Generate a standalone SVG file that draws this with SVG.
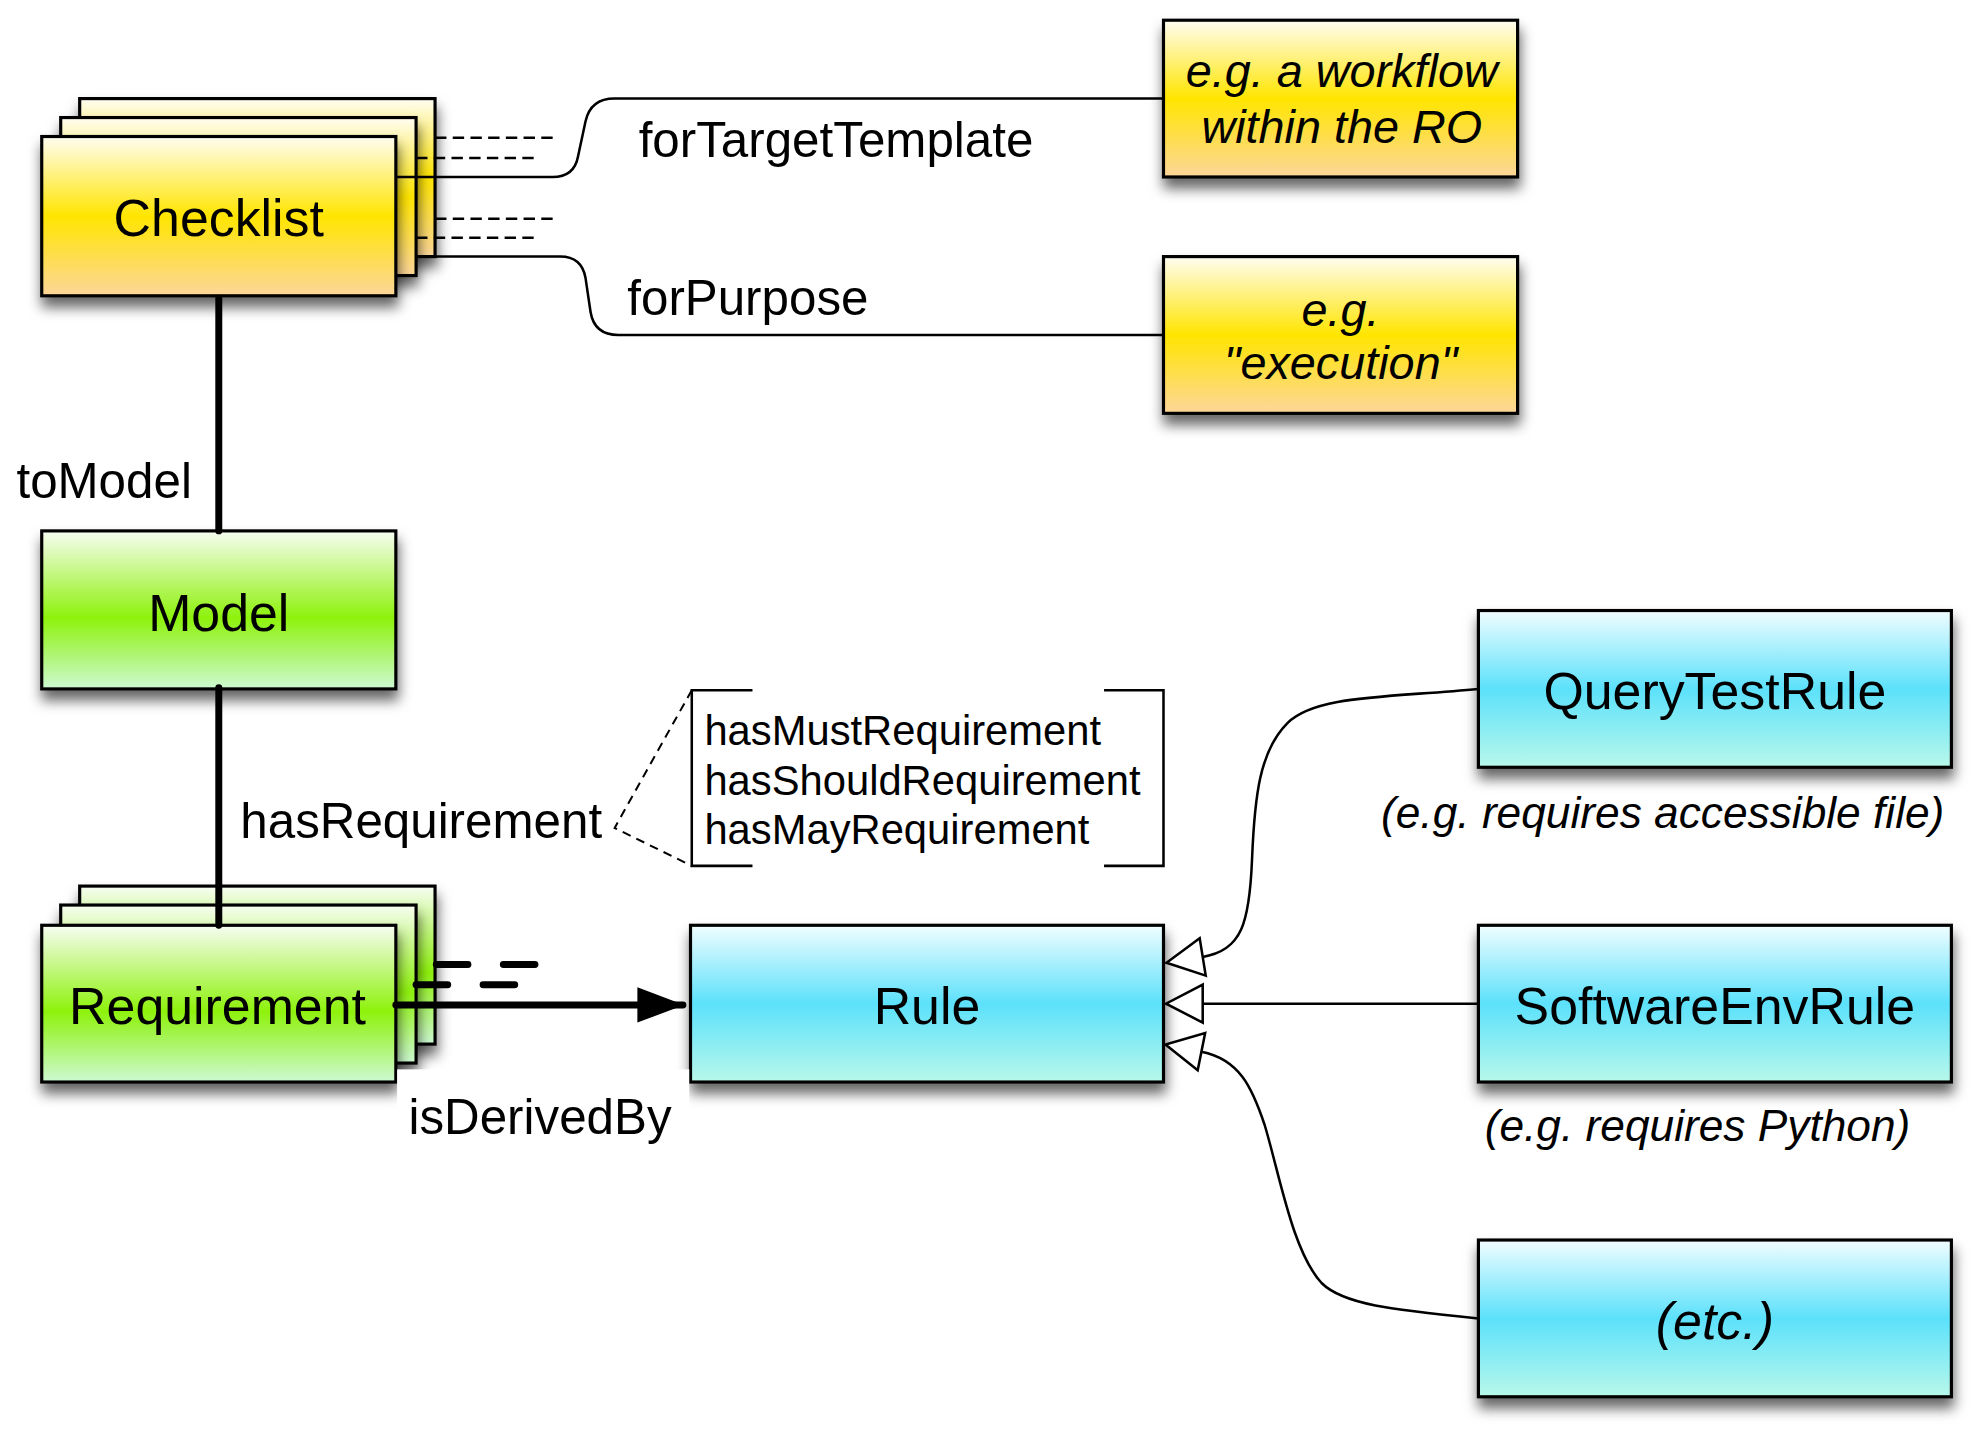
<svg xmlns="http://www.w3.org/2000/svg" width="1983" height="1441" viewBox="0 0 1983 1441">
<style>
text{font-family:"Liberation Sans",Arial,sans-serif;fill:#000}
.node{font-size:41px;text-anchor:middle}
.it{font-style:italic}
.lbl{font-size:39px}
.sub{font-size:33px}
.box{stroke:#000;stroke-width:2.5}
.y{fill:url(#gy)}.g{fill:url(#gg)}.c{fill:url(#gc)}
.thin{fill:none;stroke:#000;stroke-width:2}
.dash{fill:none;stroke:#000;stroke-width:2;stroke-dasharray:9 5}
.thick{fill:none;stroke:#000;stroke-width:5.5;stroke-linecap:round}
.tdash{fill:none;stroke:#000;stroke-width:5.5;stroke-linecap:round;stroke-dasharray:25 28}
</style>
<defs>
<linearGradient id="gy" x1="0" y1="0" x2="0" y2="1">
<stop offset="0" stop-color="#fffdf2"/><stop offset="0.5" stop-color="#ffe500"/><stop offset="1" stop-color="#fdd69a"/>
</linearGradient>
<linearGradient id="gg" x1="0" y1="0" x2="0" y2="1">
<stop offset="0" stop-color="#f7fdf2"/><stop offset="0.55" stop-color="#8ef20c"/><stop offset="1" stop-color="#cdf9d2"/>
</linearGradient>
<linearGradient id="gc" x1="0" y1="0" x2="0" y2="1">
<stop offset="0" stop-color="#f0fdff"/><stop offset="0.5" stop-color="#5ce1fb"/><stop offset="1" stop-color="#b8f8ea"/>
</linearGradient>
<filter id="sh" x="-10%" y="-10%" width="125%" height="145%">
<feDropShadow dx="1" dy="8" stdDeviation="5" flood-color="#000" flood-opacity="0.6"/>
</filter>
<marker id="open" markerUnits="userSpaceOnUse" markerWidth="40" markerHeight="40" refX="0" refY="16" orient="auto" overflow="visible">
<path d="M0,1 L29,16 L0,31 Z" fill="#fff" stroke="#000" stroke-width="2" stroke-linejoin="miter"/>
</marker>
<marker id="solid" markerUnits="userSpaceOnUse" markerWidth="40" markerHeight="30" refX="36" refY="14" orient="auto" overflow="visible">
<path d="M0,0 L37,14 L0,28 Z" fill="#000"/>
</marker>
</defs>
<g transform="scale(1.26467 1.26404)">
<rect x="0" y="0" width="1568" height="1140" fill="#fff"/>

<g id="checklist">
<rect class="box y" x="63" y="78" width="281" height="125" filter="url(#sh)"/>
<rect class="box y" x="48" y="93" width="281" height="125" filter="url(#sh)"/>
<rect class="box y" x="33" y="108" width="280" height="126" filter="url(#sh)"/>
<text class="node" x="173" y="187">Checklist</text>
</g>

<g id="targetExample">
<rect class="box y" x="920" y="16" width="280" height="124" filter="url(#sh)"/>
<text class="node it" style="font-size:37px" x="1061" y="69">e.g. a workflow</text>
<text class="node it" style="font-size:37px" x="1061" y="113">within the RO</text>
</g>

<g id="purposeExample">
<rect class="box y" x="920" y="203" width="280" height="124" filter="url(#sh)"/>
<text class="node it" style="font-size:37px" x="1060" y="258">e.g.</text>
<text class="node it" style="font-size:37px" x="1060" y="300">"execution"</text>
</g>

<g id="model">
<rect class="box g" x="33" y="420" width="280" height="125" filter="url(#sh)"/>
<text class="node" x="173" y="499">Model</text>
</g>

<g id="requirement">
<rect class="box g" x="63" y="701" width="281" height="125" filter="url(#sh)"/>
<rect class="box g" x="48" y="716" width="281" height="125" filter="url(#sh)"/>
<rect class="box g" x="33" y="732" width="280" height="124" filter="url(#sh)"/>
<text class="node" x="172" y="810">Requirement</text>
</g>

<g id="rule">
<rect class="box c" x="546" y="732" width="374" height="124" filter="url(#sh)"/>
<text class="node" x="733" y="810">Rule</text>
</g>

<g id="queryTestRule">
<rect class="box c" x="1169" y="483" width="374" height="124" filter="url(#sh)"/>
<text class="node" x="1356" y="561">QueryTestRule</text>
<text class="it" style="font-size:35px" x="1092" y="655">(e.g. requires accessible file)</text>
</g>

<g id="softwareEnvRule">
<rect class="box c" x="1169" y="732" width="374" height="124" filter="url(#sh)"/>
<text class="node" x="1356" y="810">SoftwareEnvRule</text>
<text class="it" style="font-size:35px" x="1174" y="903">(e.g. requires Python)</text>
</g>

<g id="etc">
<rect class="box c" x="1169" y="981" width="374" height="124" filter="url(#sh)"/>
<text class="node it" x="1356" y="1059">(etc.)</text>
</g>

<g id="requirementKinds">
<path class="thin" d="M595,546 H547 V685 H595"/>
<path class="thin" d="M873,546 H920 V685 H873"/>
<text class="sub" x="557" y="589">hasMustRequirement</text>
<text class="sub" x="557" y="629">hasShouldRequirement</text>
<text class="sub" x="557" y="668">hasMayRequirement</text>
</g>

<g id="connectors">
<path class="dash" d="M344,109 H440"/>
<path class="dash" d="M329,125 H425"/>
<path class="thin" d="M313,140 H437 Q454,140 457,124 L463,96 Q467,78 486,78 H920"/>
<path class="dash" d="M344,173 H440"/>
<path class="dash" d="M329,188 H425"/>
<path class="thin" d="M344,203 H443 Q460,203 463,220 L467,247 Q470,265 489,265 H920"/>
<text class="lbl" x="505" y="124">forTargetTemplate</text>
<text class="lbl" x="496" y="249">forPurpose</text>

<path class="thick" d="M173,236 V420"/>
<text class="lbl" x="13" y="394">toModel</text>

<path class="thick" d="M173,544 V732"/>
<text class="lbl" x="190" y="663">hasRequirement</text>
<path class="dash" style="stroke-dasharray:7 5;stroke-width:1.6" d="M547,546 L486,655 L547,685"/>

<path class="tdash" d="M345,763 H425"/>
<path class="tdash" d="M329,779 H410"/>
<path class="thick" d="M313,795 H540" marker-end="url(#solid)"/>
<rect x="314" y="846" width="231" height="62" fill="#fff"/>
<text class="lbl" x="323" y="897">isDerivedBy</text>

<path class="thin" d="M1169,545 C1095,552 1040,550 1018,572 C996,594 992,630 990,680 C988,730 982,752 951,757" marker-end="url(#open)"/>
<path class="thin" d="M1169,794 H951" marker-end="url(#open)"/>
<path class="thin" d="M1169,1043 C1100,1036 1062,1032 1045,1015 C1022,990 1012,930 1000,890 C990,860 980,838 950,832" marker-end="url(#open)"/>
</g>
</g>
</svg>
